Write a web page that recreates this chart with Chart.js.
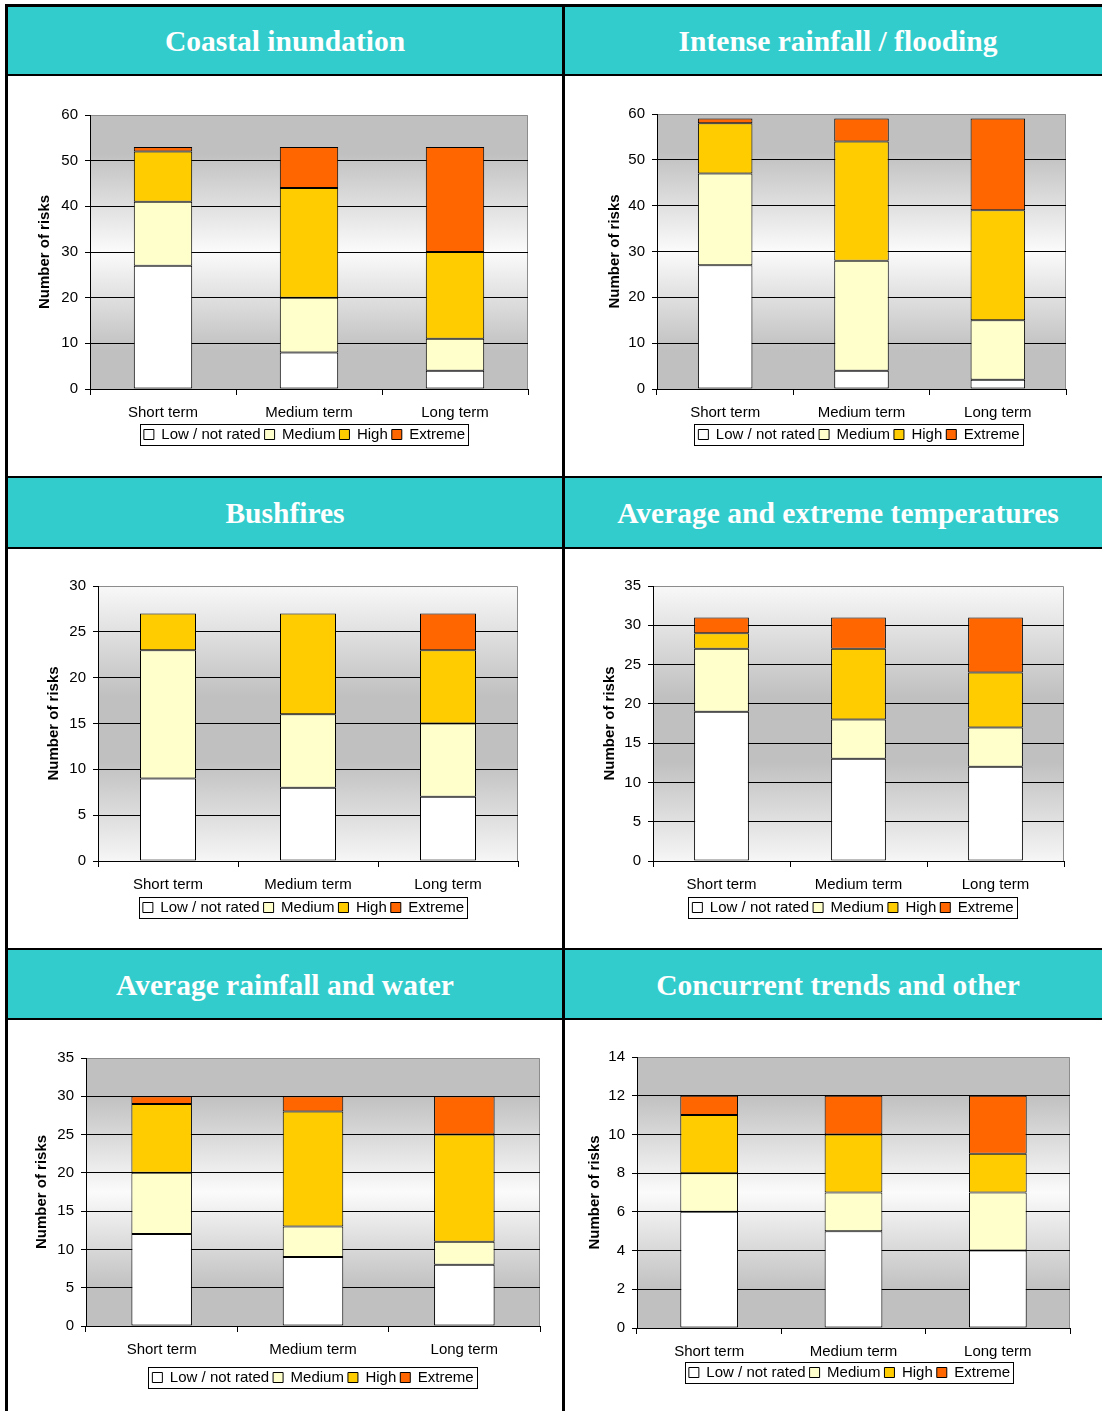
<!DOCTYPE html>
<html>
<head>
<meta charset="utf-8">
<script src="https://cdn.jsdelivr.net/npm/chart.js@4.4.0/dist/chart.umd.min.js"></script>
<style>
  html, body { margin: 0; padding: 0; background: #fff; }
  body { width: 1102px; height: 1411px; position: relative; overflow: hidden; }
  #frame { position: absolute; left: 5px; top: 4px; width: 1200px; height: 1500px; background: #000; }
  .hd { position: absolute; background: #33cccc; color: #fff; font: bold 29.5px "Liberation Serif", "Times New Roman", serif;
        display: flex; align-items: center; justify-content: center; white-space: nowrap; padding-top: 2px; box-sizing: border-box; }
  .cell { position: absolute; background: #fff; }
  canvas { position: absolute; }
</style>
</head>
<body>
<div id="frame"></div>
<script>
const categories = ["Short term", "Medium term", "Long term"];
const seriesNames = ["Low / not rated", "Medium", "High", "Extreme"];
const seriesColors = ["#ffffff", "#ffffcc", "#ffcc00", "#ff6600"];

const titles = ["Coastal inundation", "Intense rainfall / flooding", "Bushfires",
  "Average and extreme temperatures", "Average rainfall and water", "Concurrent trends and other"];
const yMax = [60, 60, 30, 35, 35, 14];
const yStep = [10, 10, 5, 5, 5, 2];

// Coastal inundation
const coastalLow = [27, 8, 4];
const coastalMedium = [14, 12, 7];
const coastalHigh = [11, 24, 19];
const coastalExtreme = [1, 9, 23];
// Intense rainfall / flooding
const floodLow = [27, 4, 2];
const floodMedium = [20, 24, 13];
const floodHigh = [11, 26, 24];
const floodExtreme = [1, 5, 20];
// Bushfires
const fireLow = [9, 8, 7];
const fireMedium = [14, 8, 8];
const fireHigh = [4, 11, 8];
const fireExtreme = [0, 0, 4];
// Average and extreme temperatures
const tempLow = [19, 13, 12];
const tempMedium = [8, 5, 5];
const tempHigh = [2, 9, 7];
const tempExtreme = [2, 4, 7];
// Average rainfall and water
const waterLow = [12, 9, 8];
const waterMedium = [8, 4, 3];
const waterHigh = [9, 15, 14];
const waterExtreme = [1, 2, 5];
// Concurrent trends and other
const otherLow = [6, 5, 4];
const otherMedium = [2, 2, 3];
const otherHigh = [3, 3, 2];
const otherExtreme = [1, 2, 3];

const allSeries = [
  [coastalLow, coastalMedium, coastalHigh, coastalExtreme],
  [floodLow, floodMedium, floodHigh, floodExtreme],
  [fireLow, fireMedium, fireHigh, fireExtreme],
  [tempLow, tempMedium, tempHigh, tempExtreme],
  [waterLow, waterMedium, waterHigh, waterExtreme],
  [otherLow, otherMedium, otherHigh, otherExtreme]
];

// page layout (px)
const grayEdges = [[0, "#c0c0c0"], [0.14, "#c0c0c0"], [0.5, "#fbfbfb"], [0.86, "#c0c0c0"], [1, "#c0c0c0"]];
const grayCenter = [[0, "#f8f8f8"], [0.4, "#c0c0c0"], [0.64, "#c0c0c0"], [1, "#f6f6f6"]];
const headers = [[8, 7, 554, 67], [565, 7, 546, 67], [8, 478, 554, 69], [565, 478, 546, 69], [8, 950, 554, 68], [565, 950, 546, 68]];
const layouts = [
  { cell: [8, 76, 554, 400], plot: [90, 115, 528, 389], titleX: 45, legendCx: 304.5, legendTop: 424, bg: grayEdges },
  { cell: [565, 76, 537, 400], plot: [657, 114, 1066, 389], titleX: 615, legendCx: 859, legendTop: 424, bg: grayEdges },
  { cell: [8, 549, 554, 399], plot: [98, 586, 518, 861], titleX: 54, legendCx: 303.5, legendTop: 897, bg: grayCenter },
  { cell: [565, 549, 537, 399], plot: [653, 586, 1064, 861], titleX: 610, legendCx: 853, legendTop: 897, bg: grayCenter },
  { cell: [8, 1020, 554, 391], plot: [86, 1058, 540, 1326], titleX: 42, legendCx: 313, legendTop: 1367, bg: grayEdges },
  { cell: [565, 1020, 537, 391], plot: [637, 1057, 1070, 1328], titleX: 595, legendCx: 849.5, legendTop: 1362, bg: grayEdges }
];

const FONT = '"Liberation Sans", Arial, sans-serif';
Chart.defaults.font.family = FONT;
Chart.defaults.font.size = 15;
Chart.defaults.color = "#000";

// plot background, gray top/right border, legend placement + frame
const plotPlugin = {
  id: "plotPlugin",
  afterLayout(chart, args, opts) {
    const lg = chart.legend;
    const pad = lg.options.labels.padding;
    const dx = opts.legendCx - (lg.left + lg.right) / 2;
    const dy = opts.legendTop + 3 - (lg.top + pad);
    lg.left += dx; lg.right += dx;
    lg.top += dy; lg.bottom += dy;
  },
  beforeDraw(chart, args, opts) {
    const ctx = chart.ctx;
    const a = chart.chartArea;
    const g = ctx.createLinearGradient(0, a.top, 0, a.bottom);
    opts.stops.forEach(s => g.addColorStop(s[0], s[1]));
    ctx.save();
    ctx.fillStyle = g;
    ctx.fillRect(a.left, a.top, a.right - a.left, a.bottom - a.top);
    ctx.strokeStyle = "#8c8c8c";
    ctx.lineWidth = 1;
    ctx.beginPath();
    ctx.moveTo(a.left, a.top + 0.5);
    ctx.lineTo(a.right - 0.5, a.top + 0.5);
    ctx.lineTo(a.right - 0.5, a.bottom);
    ctx.stroke();
    ctx.restore();
  },
  afterDraw(chart, args, opts) {
    const hb = chart.legend.legendHitBoxes;
    if (!hb || !hb.length) return;
    const ctx = chart.ctx;
    const last = hb[hb.length - 1];
    const x0 = Math.round(hb[0].left) - 3.5;
    const x1 = Math.round(last.left + last.width) + 3.5;
    const y0 = Math.round(opts.legendTop) + 0.5;
    ctx.save();
    ctx.strokeStyle = "#000";
    ctx.lineWidth = 1;
    ctx.strokeRect(x0, y0, x1 - x0, 21);
    ctx.restore();
  }
};

const body = document.body;
headers.forEach((h, i) => {
  const d = document.createElement("div");
  d.className = "hd";
  d.style.left = h[0] + "px"; d.style.top = h[1] + "px";
  d.style.width = h[2] + "px"; d.style.height = h[3] + "px";
  d.textContent = titles[i];
  body.appendChild(d);
});

layouts.forEach((L, i) => {
  const [cx, cy, cw, ch] = L.cell;
  const cell = document.createElement("div");
  cell.className = "cell";
  cell.style.left = cx + "px"; cell.style.top = cy + "px";
  cell.style.width = cw + "px"; cell.style.height = ch + "px";
  body.appendChild(cell);

  const canvas = document.createElement("canvas");
  canvas.width = cw; canvas.height = ch;
  canvas.style.left = "0px"; canvas.style.top = "0px";
  cell.appendChild(canvas);

  const plotLeft = L.plot[0] - cx;
  const plotTop = L.plot[1] - cy;
  const plotRight = L.plot[2] - cx;
  const plotBottom = L.plot[3] - cy;
  const max = yMax[i];

  new Chart(canvas.getContext("2d"), {
    type: "bar",
    data: {
      labels: categories,
      datasets: allSeries[i].map((vals, k) => ({
        label: seriesNames[k],
        data: vals,
        backgroundColor: seriesColors[k],
        borderColor: "#000",
        borderWidth: 1,
        borderSkipped: false,
        categoryPercentage: 1,
        barPercentage: 0.4
      }))
    },
    options: {
      responsive: false,
      animation: false,
      devicePixelRatio: 1,
      layout: { padding: { top: plotTop, right: cw - plotRight, left: 0, bottom: 0 } },
      scales: {
        x: {
          stacked: true,
          grid: { offset: true, drawOnChartArea: false, tickLength: 6, tickColor: "#000" },
          border: { color: "#000", width: 1 },
          ticks: { padding: 9, maxRotation: 0, autoSkip: false, color: "#000" },
          afterFit(s) { s.height = ch - s.chart.legend.height - plotBottom; }
        },
        y: {
          stacked: true,
          min: 0,
          max: max,
          ticks: { stepSize: yStep[i], padding: 7, color: "#000" },
          grid: {
            color: c => (c.tick && c.tick.value === max) ? "rgba(0,0,0,0)" : "#000",
            tickColor: "#000",
            tickLength: 5
          },
          border: { color: "#000", width: 1 },
          title: {
            display: true,
            text: "Number of risks",
            color: "#000",
            font: { weight: "bold", size: 15 },
            padding: { top: (L.titleX - cx) - 9, bottom: 0 }
          },
          afterFit(s) { s.width = plotLeft; }
        }
      },
      plugins: {
        tooltip: { enabled: false },
        legend: {
          position: "bottom",
          labels: { boxWidth: 10, boxHeight: 10, padding: 4, color: "#000", font: { size: 15 } }
        },
        plotPlugin: { stops: L.bg, legendCx: L.legendCx - cx, legendTop: L.legendTop - cy }
      }
    },
    plugins: [plotPlugin]
  });
});
</script>
</body>
</html>
